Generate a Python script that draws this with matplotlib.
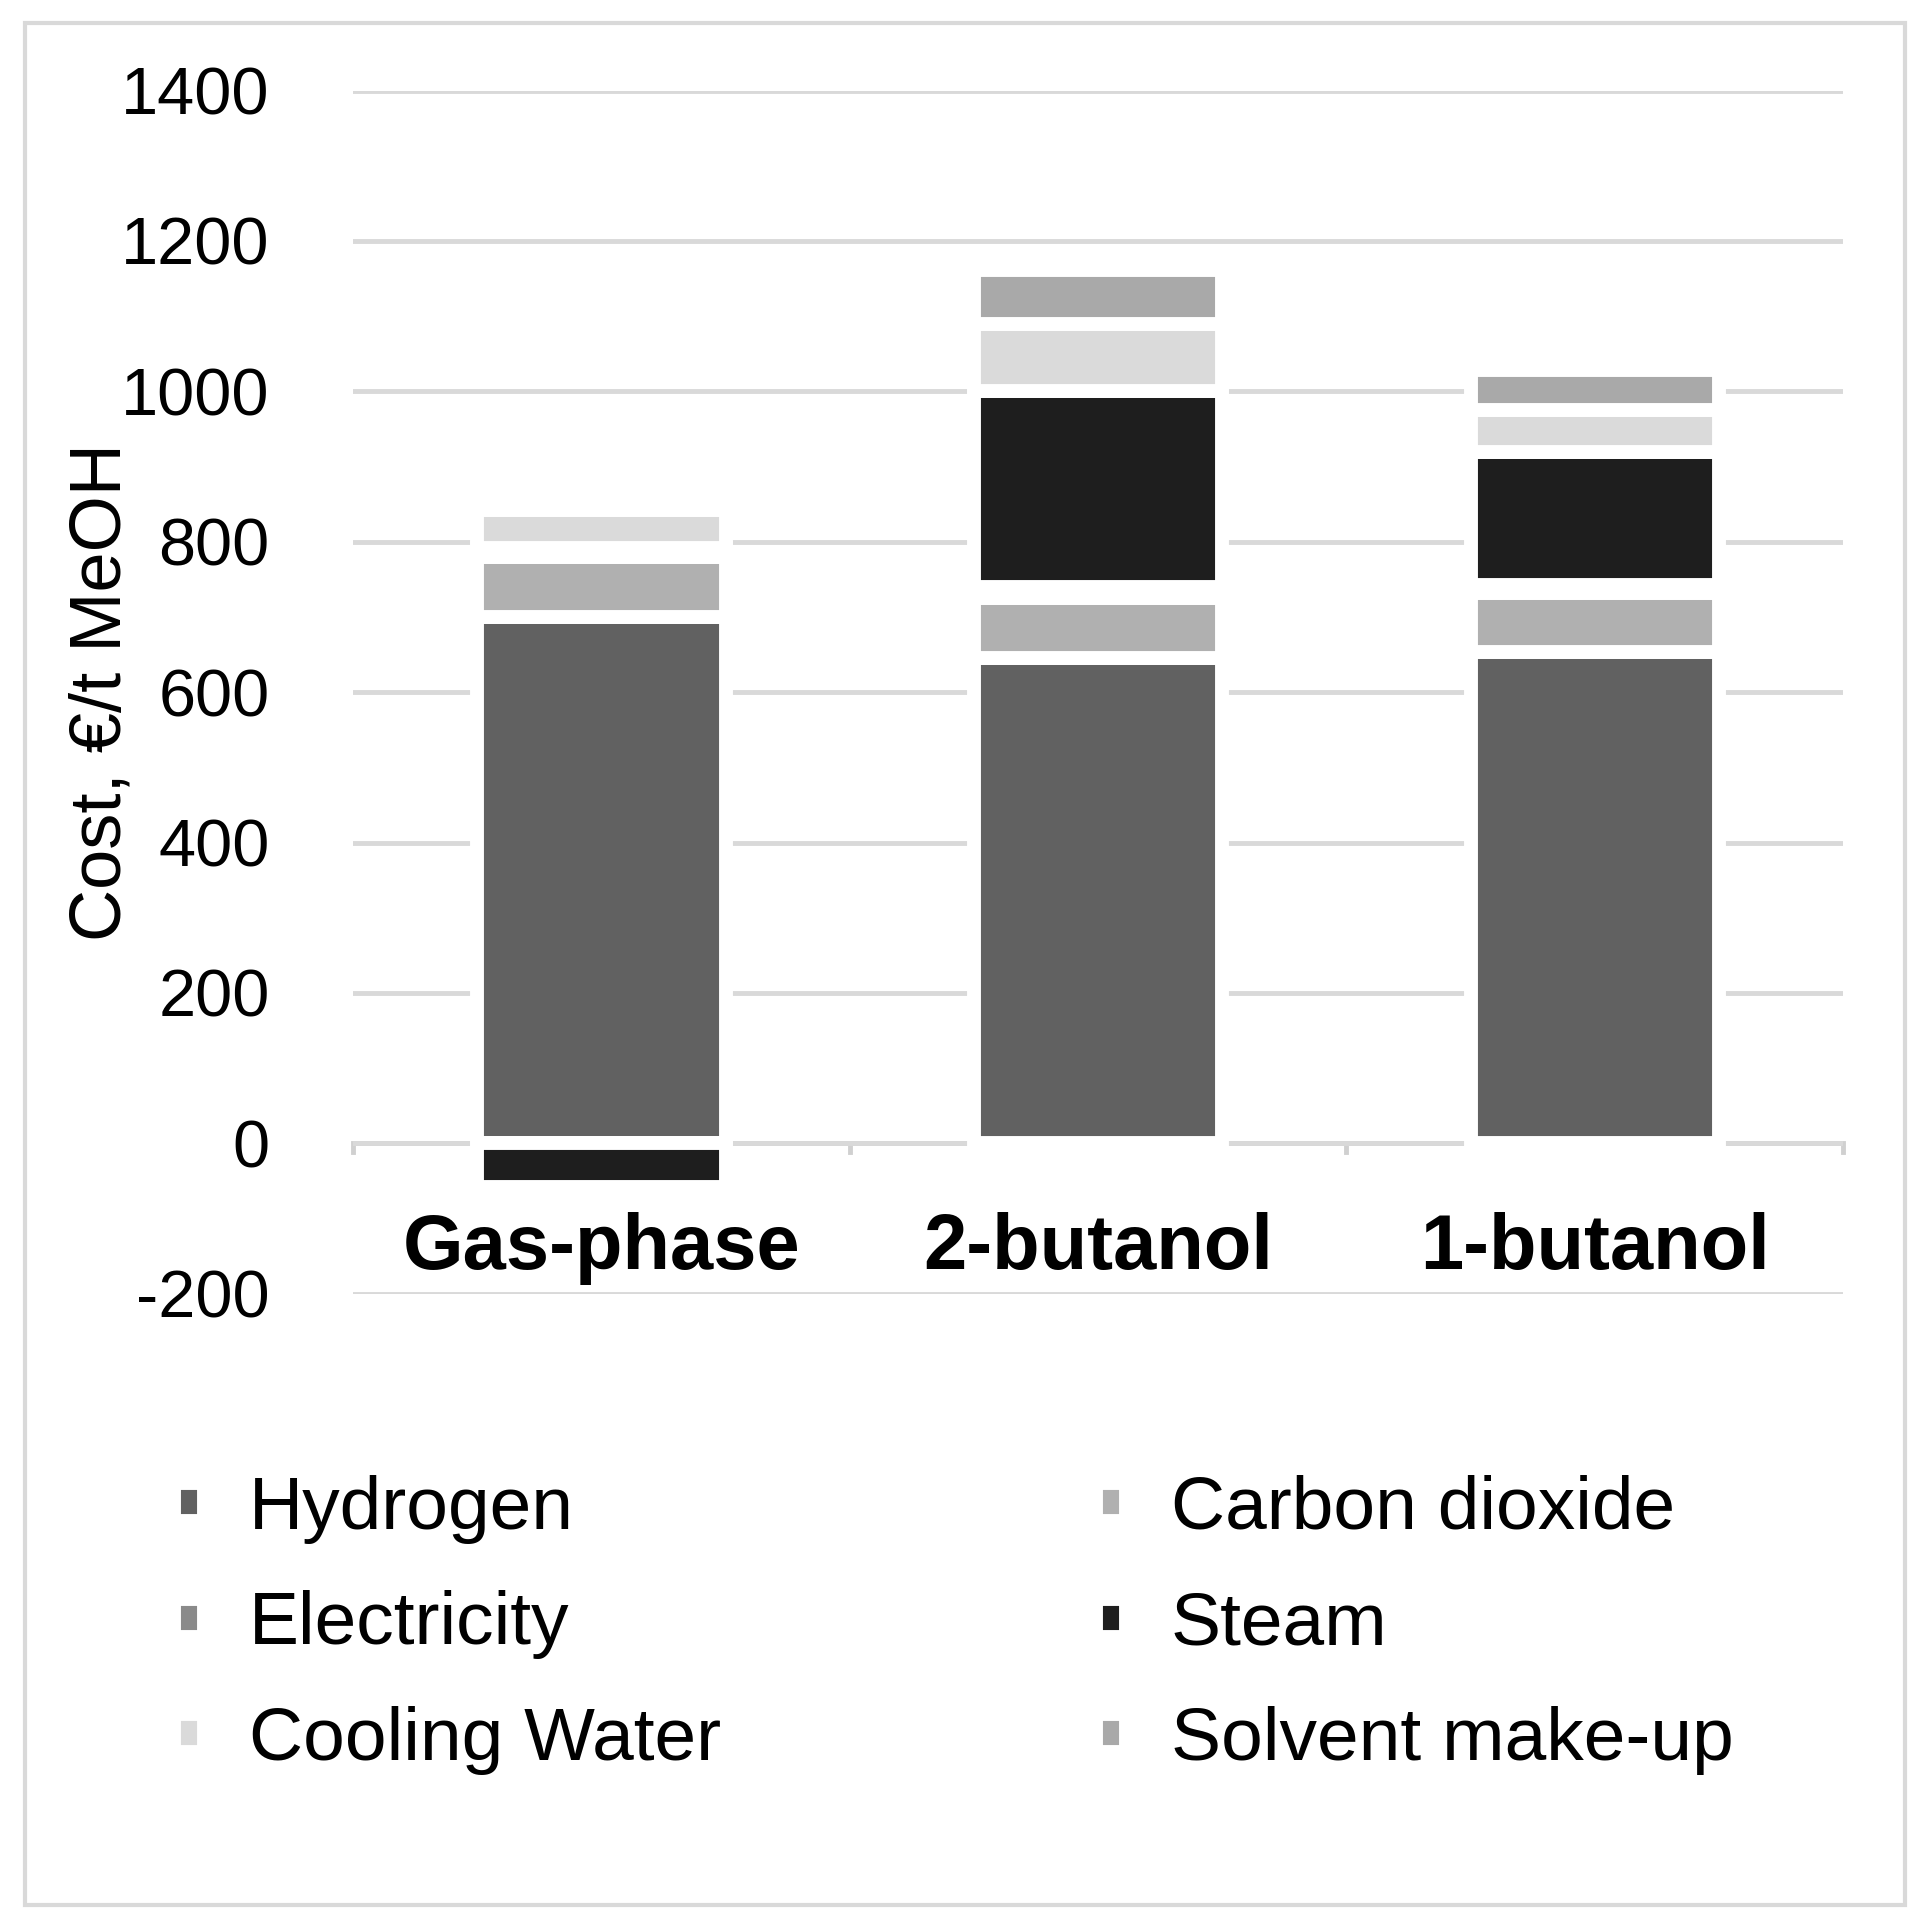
import matplotlib.pyplot as plt
import numpy as np
from matplotlib.patches import Rectangle

plt.rcParams['font.family'] = ['Liberation Sans', 'DejaVu Sans']
plt.rcParams['axes.unicode_minus'] = False

categories = ['Gas-phase', '2-butanol', '1-butanol']
hydrogen = [700, 645, 654]
carbon_dioxide = [80, 80, 78]
electricity = [12, 15, 10]
steam = [-58, 260, 178]
cooling_water = [50, 90, 55]
solvent = [0, 72, 53]

series = [
    ('Hydrogen', hydrogen, '#616161'),
    ('Carbon dioxide', carbon_dioxide, '#b0b0b0'),
    ('Electricity', electricity, '#8a8a8a'),
    ('Steam', steam, '#1e1e1e'),
    ('Cooling Water', cooling_water, '#dadada'),
    ('Solvent make-up', solvent, '#a9a9a9'),
]

fig = plt.figure(figsize=(19.3, 19.28), dpi=100)
ax = fig.add_axes([0.183, 0.329, 0.772, 0.624])
fig.patches.append(Rectangle((0.013, 0.012), 0.974, 0.976, transform=fig.transFigure,
                             fill=False, edgecolor='#d9d9d9', linewidth=3))

x = np.arange(len(categories))
pos = np.zeros(len(categories))
neg = np.zeros(len(categories))
for name, vals, col in series:
    vals = np.array(vals, dtype=float)
    bottom = np.where(vals >= 0, pos, neg)
    ax.bar(x, vals, bottom=bottom, width=0.5, color=col, edgecolor='white',
           linewidth=10, label=name, zorder=3)
    pos += np.where(vals >= 0, vals, 0)
    neg += np.where(vals < 0, vals, 0)

ax.set_xlim(-0.5, 2.5)
ax.set_ylim(-200, 1400)
ax.set_yticks(np.arange(-200, 1401, 200))
ax.yaxis.grid(True, color='#d9d9d9', linewidth=3.5, zorder=0)
ax.axhline(0, color='#d0d0d0', linewidth=3.5, zorder=1)
for xb in [-0.5, 0.5, 1.5, 2.5]:
    ax.plot([xb, xb], [0, -12], color='#d0d0d0', linewidth=3.5, zorder=1, clip_on=False)
for s in ax.spines.values():
    s.set_visible(False)
ax.set_xticks([])
ax.tick_params(axis='y', length=0, labelsize=48, pad=60)
for xi, c in zip(x, categories):
    ax.text(xi, -140, c, ha='center', va='center', fontsize=56, fontweight='bold')
ax.set_ylabel('Cost, €/t MeOH', fontsize=52, labelpad=-10)

handles, labels = ax.get_legend_handles_labels()
order = [0, 2, 4, 1, 3, 5]
fig.legend([handles[i] for i in order], [labels[i] for i in order], ncol=2,
           loc='upper left', bbox_to_anchor=(0.055, 0.27), frameon=False,
           fontsize=54, handlelength=0.4, handleheight=0.4, handletextpad=0.6,
           columnspacing=5.0, labelspacing=0.62)

fig.savefig('out.png', dpi=100)
